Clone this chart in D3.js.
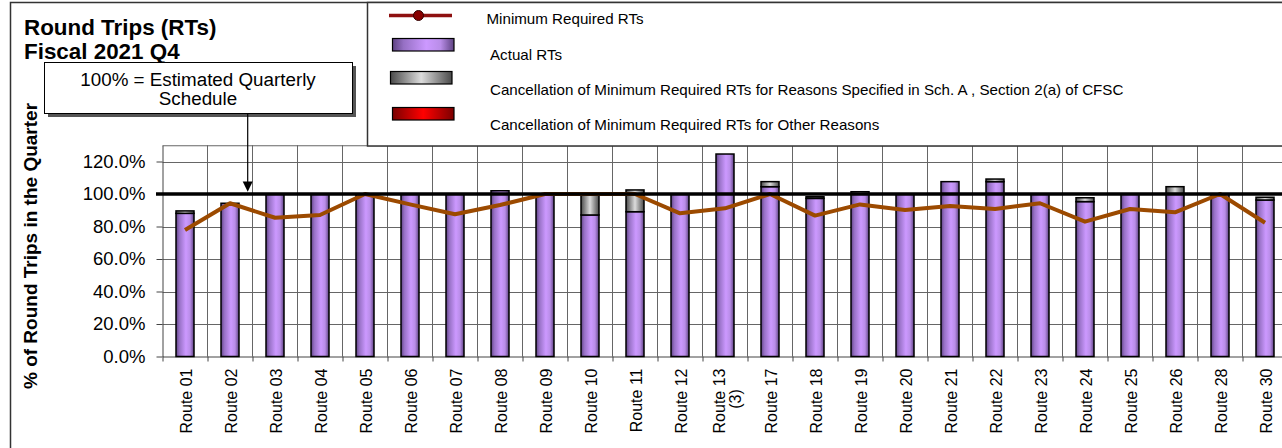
<!DOCTYPE html>
<html><head><meta charset="utf-8">
<script src="https://cdn.jsdelivr.net/npm/d3@7"></script>
<style>
body{margin:0;background:#fff;overflow:hidden}
text{font-family:"Liberation Sans",Arial,Helvetica,sans-serif;fill:#000}
</style>
</head><body>
<svg id="chart" width="1282" height="448"></svg>
<script>
// ---- data ----
const categories = ["Route 01","Route 02","Route 03","Route 04","Route 05","Route 06","Route 07","Route 08","Route 09","Route 10","Route 11","Route 12","Route 13\n(3)","Route 17","Route 18","Route 19","Route 20","Route 21","Route 22","Route 23","Route 24","Route 25","Route 26","Route 28","Route 30"];
const actualRTs   = [88.1, 94.3, 100, 100, 100, 100, 100, 102.0, 100, 87.1, 89.1, 100, 124.6, 104.5, 97.3, 100, 100, 107.6, 107.6, 100, 95.3, 100, 100, 100, 96.3];
const cancelSchA  = [1.5, 0, 0, 0, 0, 0, 0, 0, 0, 12.9, 13.4, 0, 0, 3.1, 1.0, 1.4, 0, 0, 1.6, 0, 2.4, 0, 4.5, 0, 1.7];
const cancelOther = [0, 0, 0, 0, 0, 0, 0, 0, 0, 0, 0, 0, 0, 0, 0, 0, 0, 0, 0, 0, 0, 0, 0, 0, 0];
const minRequired = [77.8, 94.3, 85.4, 87.1, 100, 93.6, 87.5, 93.2, 100, 100, 100, 88.1, 91.2, 100, 86.7, 93.6, 90.2, 92.6, 90.8, 94.3, 83.0, 90.8, 88.7, 100, 82.3];
const yTicks = [0, 20, 40, 60, 80, 100, 120];
const seriesNames = ["Minimum Required RTs", "Actual RTs", "Cancellation of Minimum Required RTs for Reasons Specified in Sch. A , Section 2(a) of CFSC", "Cancellation of Minimum Required RTs for Other Reasons"];
const titleLines = ["Round Trips (RTs)", "Fiscal 2021 Q4"];
const yTitle = "% of Round Trips in the Quarter";
const noteLines = ["100% = Estimated Quarterly", "Schedule"];
const targetValue = 100;

// ---- setup ----
const svg = d3.select("#chart");
const defs = svg.append("defs");
function grad(id, stops){
  const g = defs.append("linearGradient").attr("id", id).attr("x1","0").attr("x2","1").attr("y1","0").attr("y2","0");
  stops.forEach(s => g.append("stop").attr("offset", s[0]).attr("stop-color", s[1]));
}
grad("gPurple", [[0,"#5e4282"],[0.18,"#9670c4"],[0.55,"#cc99ff"],[0.78,"#b98de8"],[1,"#5e4282"]]);
grad("gGray",   [[0,"#4a4a4a"],[0.5,"#dcdcdc"],[1,"#4a4a4a"]]);
grad("gRed",    [[0,"#7a0000"],[0.5,"#ff0000"],[1,"#7a0000"]]);

const plotL = 162.5, plotR = 1287.5, plotT = 145.25, plotB = 356.5;
const x = d3.scaleBand().domain(categories).range([plotL, plotR]).paddingInner(0).paddingOuter(0);
const xi = d3.scaleLinear().domain([0, categories.length]).range([plotL, plotR]);
const y = d3.scaleLinear().domain([0, 130]).range([plotB, plotT]);
const barW = x.bandwidth() * 0.4;
const gridColor = "#666";

// outer frame
svg.append("rect").attr("x",10.5).attr("y",2.5).attr("width",1400).attr("height",500)
  .attr("fill","#fff").attr("stroke","#333").attr("stroke-width",1.5);

// titles
const tt = svg.append("text").attr("x",24).attr("font-size",22.4).attr("font-weight","bold");
titleLines.forEach((t,i)=> tt.append("tspan").attr("x",24).attr("y", 34.5 + i*24).text(t));

// gridlines
const grid = svg.append("g");
grid.selectAll("line.h").data(yTicks.filter(d=>d>0)).join("line")
  .attr("x1",plotL).attr("x2",plotR).attr("y1",d=>Math.round(y(d))+0.5).attr("y2",d=>Math.round(y(d))+0.5)
  .attr("stroke",gridColor).attr("stroke-width",1);
grid.selectAll("line.v").data(d3.range(1, categories.length)).join("line")
  .attr("x1",d=>xi(d)).attr("x2",d=>xi(d)).attr("y1",plotT).attr("y2",plotB)
  .attr("stroke",gridColor).attr("stroke-width",1);
svg.append("line").attr("x1",plotL).attr("x2",plotR).attr("y1",plotT+0.5).attr("y2",plotT+0.5).attr("stroke",gridColor);

// axes
const yAxis = svg.append("g").attr("transform",`translate(${plotL},0)`)
  .call(d3.axisLeft(y).tickValues(yTicks).tickFormat(d=>d.toFixed(1)+"%").tickSize(6).tickPadding(11).tickSizeOuter(0));
yAxis.select(".domain").attr("stroke","#444");
yAxis.selectAll(".tick line").attr("stroke","#444");
yAxis.selectAll(".tick text").attr("font-size",18.5).attr("font-family",null).attr("fill","#000");

const xAxis = svg.append("g").attr("transform",`translate(0,${plotB})`)
  .call(d3.axisBottom(xi).tickValues(d3.range(0, categories.length+1)).tickFormat("").tickSize(5).tickSizeOuter(0));
xAxis.select(".domain").attr("stroke","#444");
xAxis.selectAll(".tick line").attr("stroke","#444");

// x labels
const lblTop = 368.5, lblFont = 16;
categories.forEach(c=>{
  const cx = x(c) + x.bandwidth()/2;
  const lines = c.split("\n");
  const g = svg.append("g").attr("transform",`translate(${cx},${lblTop}) rotate(-90)`);
  const shift = lines.length > 1 ? -7 : 0;
  const t0 = g.append("text").attr("font-size",lblFont).attr("text-anchor","end")
    .attr("x",0).attr("y",1.3 + shift).attr("dy","0.35em").text(lines[0]);
  if(lines.length>1){
    const len = t0.node().getComputedTextLength();
    for(let i=1;i<lines.length;i++){
      g.append("text").attr("font-size",lblFont).attr("text-anchor","middle")
        .attr("x",-len/2 + 2).attr("y",1.3 + shift + i*16).attr("dy","0.35em").text(lines[i]);
    }
  }
});

// stacked bars
const rows = categories.map((c,i)=>({cat:c, a:actualRTs[i], s:cancelSchA[i], o:cancelOther[i]}));
const stack = d3.stack().keys(["a","s","o"])(rows);
const fills = {a:"url(#gPurple)", s:"url(#gGray)", o:"url(#gRed)"};
stack.forEach(layer=>{
  svg.append("g").selectAll("rect").data(layer.filter(d=>d[1]-d[0]>0)).join("rect")
    .attr("x",d=>x(d.data.cat)+(x.bandwidth()-barW)/2)
    .attr("width",barW)
    .attr("y",d=>y(d[1]))
    .attr("height",d=>y(d[0])-y(d[1]))
    .attr("fill",fills[layer.key]).attr("stroke","#000").attr("stroke-width",1.5);
});

// min required line
const line = d3.line().x((d,i)=>x(categories[i])+x.bandwidth()/2).y(d=>y(d));
svg.append("path").datum(minRequired).attr("d",line).attr("fill","none")
  .attr("stroke","#9c4a00").attr("stroke-width",4).attr("stroke-linejoin","round");

// 100% target line
svg.append("line").attr("x1",156).attr("x2",plotR).attr("y1",y(targetValue)).attr("y2",y(targetValue))
  .attr("stroke","#000").attr("stroke-width",3.5);

// y title
svg.append("text").attr("transform",`translate(37,246) rotate(-90)`).attr("text-anchor","middle")
  .attr("font-size",19).attr("font-weight","bold").text(yTitle);

// legend box
svg.append("rect").attr("x",367.5).attr("y",2.5).attr("width",1000).attr("height",143.5)
  .attr("fill","#fff").attr("stroke","#333").attr("stroke-width",1.5);
const lg = svg.append("g");
lg.append("line").attr("x1",389).attr("x2",452).attr("y1",15.5).attr("y2",15.5).attr("stroke","#8e1010").attr("stroke-width",3.5);
lg.append("circle").attr("cx",418.5).attr("cy",15.5).attr("r",5).attr("fill","#880000").attr("stroke","#330000").attr("stroke-width",1);
const legRects = [[392.5,38.5,"url(#gPurple)"],[390.5,71.5,"url(#gGray)"],[392.5,107.5,"url(#gRed)"]];
legRects.forEach(r=> lg.append("rect").attr("x",r[0]).attr("y",r[1]).attr("width",61.5).attr("height",12.5)
  .attr("fill",r[2]).attr("stroke","#000").attr("stroke-width",1.2));
const legText = [[486.5,24.3],[490,60],[490,95.3],[490,130.3]];
seriesNames.forEach((n,i)=> lg.append("text").attr("x",legText[i][0]).attr("y",legText[i][1]).attr("font-size",15.15).text(n));

// annotation
const ann = svg.append("g");
ann.append("rect").attr("x",48).attr("y",66).attr("width",308).attr("height",51).attr("fill","#555");
ann.append("rect").attr("x",44.5).attr("y",62.5).attr("width",308).attr("height",51).attr("fill","#fff").attr("stroke","#000").attr("stroke-width",1);
noteLines.forEach((t,i)=> ann.append("text").attr("x",198).attr("y",86+i*18.5).attr("text-anchor","middle").attr("font-size",18.8).text(t));
ann.append("line").attr("x1",247.7).attr("x2",247.7).attr("y1",113.5).attr("y2",183).attr("stroke","#000").attr("stroke-width",1.2);
ann.append("path").attr("d","M242.7,181.5 L252.7,181.5 L247.7,191.7 Z").attr("fill","#000");
</script>
</body></html>
